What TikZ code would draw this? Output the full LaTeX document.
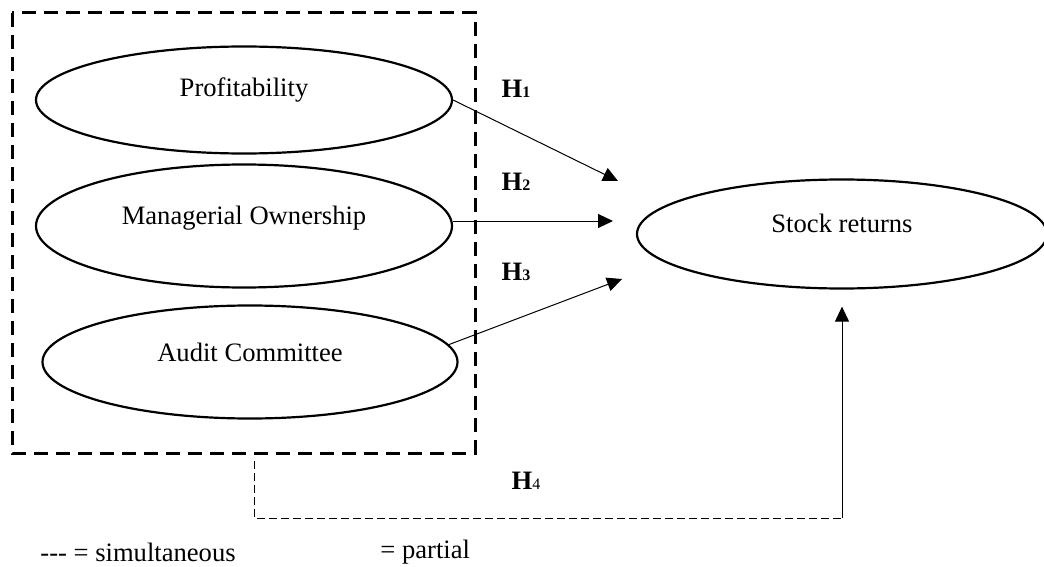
\documentclass[tikz,border=0pt]{standalone}
\usepackage{fontspec}
\setmainfont{Liberation Serif}
\usepackage{tikz}
\usetikzlibrary{arrows.meta, shapes.geometric, calc, positioning}
\tikzset{
    varNode/.style={ellipse, draw, line width=1.1pt, inner sep=0pt, minimum width=208pt, minimum height=55pt},
    varText/.style={yshift=5pt},
    groupBox/.style={draw, line width=1.5pt, dash pattern=on 7pt off 4pt},
    hypEdge/.style={->, >={Triangle[length=7.5pt, width=7pt]}, line width=0.5pt},
    simLine/.style={line width=0.5pt, dash pattern=on 4pt off 2pt},
    hypLabel/.style={inner sep=0pt},
}
\newcommand{\hyp}[1]{\textbf{H{\fontsize{8}{8}\selectfont #1}}}

\begin{document}
\begin{tikzpicture}[x=0.5pt, y=-0.5pt, font=\fontsize{13.3}{16}\selectfont]
    \useasboundingbox (0,0) rectangle (1044,567);

    % independent variables
    \coordinate (boxNW) at (12, 13);
    \coordinate (boxSE) at (475, 453);
    \draw[groupBox] (boxNW) rectangle (boxSE);

    \node[varNode, minimum height=53.5pt, label={[varText]center:Profitability}] (prof) at (244, 100) {};
    \node[varNode, minimum height=61.5pt, label={[varText, yshift=-1pt]center:Managerial Ownership}] (man) at (244, 226) {};
    \node[varNode, minimum height=56.5pt, minimum width=207.5pt, label={[varText]center:Audit Committee}] (aud) at (250, 362) {};

    % dependent variable
    \node[varNode, minimum height=54.5pt, minimum width=205pt, label={[varText, yshift=0.5pt]center:Stock returns}] (stock) at (842, 234) {};

    % arrow tips
    \coordinate (t1) at (618, 181);
    \coordinate (t2) at (613, 221);
    \coordinate (t3) at (622, 279);
    \coordinate (t4) at ($(stock.south)+(0, 17)$);

    \draw[hypEdge] (prof.east) -- (t1);
    \draw[hypEdge] (man.east |- t2) -- (t2);
    \draw[hypEdge] (aud.5) -- (t3);

    \node[hypLabel] (h1) at (516, 89) {\hyp{1}};
    \node[hypLabel] (h2) at (516, 182) {\hyp{2}};
    \node[hypLabel] (h3) at (516, 272) {\hyp{3}};
    \node[hypLabel] (h4) at (526, 481) {\textbf{H}{\fontsize{8}{8}\selectfont 4}};

    % simultaneous link
    \coordinate (simStart) at (254, 461);
    \coordinate (simEnd) at (t4 |- 0, 518);
    \draw[simLine] (simStart) |- (simEnd);
    \draw[hypEdge] (simEnd) -- (t4);

    % legend
    \node[anchor=west, inner sep=0pt] (legSim) at (40, 552) {{-}{-}{-} = simultaneous};
    \node[anchor=west, inner sep=0pt] (legPar) at (380, 552) {= partial};

\end{tikzpicture}
\end{document}
